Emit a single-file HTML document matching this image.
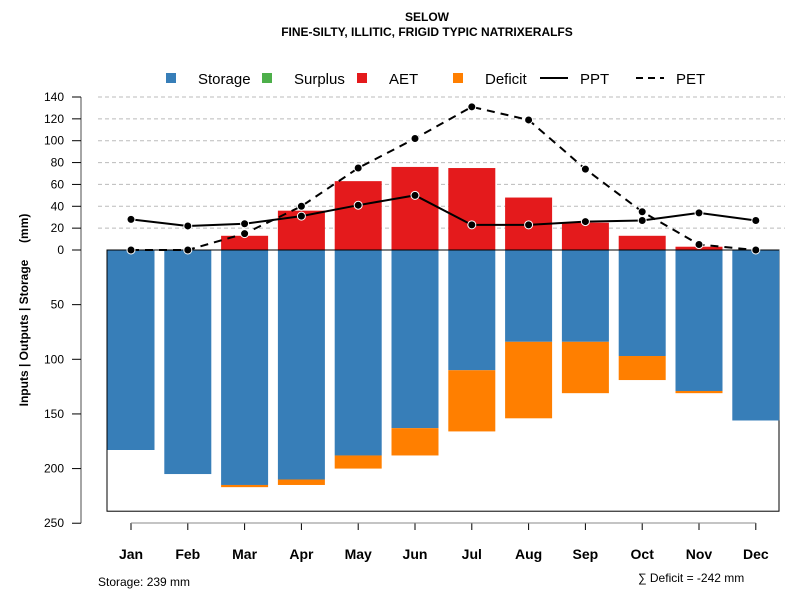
<!DOCTYPE html>
<html><head><meta charset="utf-8"><style>
body{margin:0;background:#fff;font-family:"Liberation Sans",sans-serif}
svg text{font-family:"Liberation Sans",sans-serif}
</style></head><body>
<svg id="c" width="800" height="600" xmlns="http://www.w3.org/2000/svg">
<text x="427" y="21" text-anchor="middle" font-size="12" font-weight="bold">SELOW</text>
<text x="427" y="36" text-anchor="middle" font-size="12" font-weight="bold">FINE-SILTY, ILLITIC, FRIGID TYPIC NATRIXERALFS</text>
<g>
<rect x="166" y="73" width="10" height="10" fill="#377eb8"/>
<text x="198" y="84" font-size="15">Storage</text>
<rect x="262" y="73" width="10" height="10" fill="#4daf4a"/>
<text x="294" y="84" font-size="15">Surplus</text>
<rect x="357" y="73" width="10" height="10" fill="#e41a1c"/>
<text x="389" y="84" font-size="15">AET</text>
<rect x="453" y="73" width="10" height="10" fill="#ff7f00"/>
<text x="485" y="84" font-size="15">Deficit</text>
<line x1="540" y1="78" x2="568" y2="78" stroke="#000" stroke-width="2"/>
<text x="580" y="84" font-size="15">PPT</text>
<line x1="636" y1="78" x2="664" y2="78" stroke="#000" stroke-width="2" stroke-dasharray="7,5"/>
<text x="676" y="84" font-size="15">PET</text>
</g>
<text transform="translate(28,310) rotate(-90)" text-anchor="middle" font-size="12" font-weight="bold" xml:space="preserve" style="white-space:pre">Inputs | Outputs | Storage     (mm)</text>
<text x="98" y="586" font-size="12">Storage: 239 mm</text>
<text x="638" y="582" font-size="12">∑ Deficit = -242 mm</text>
<g id="g"></g>
</svg>
<script>
const months=["Jan","Feb","Mar","Apr","May","Jun","Jul","Aug","Sep","Oct","Nov","Dec"];
const storage=[183,205,215,210,188,163,110,84,84,97,129,156];
const deficit=[0,0,2,5,12,25,56,70,47,22,2,0];
const aet=[0,0,13,36,63,76,75,48,25,13,3,0];
const ppt=[28,22,24,31,41,50,23,23,26,27,34,27];
const pet=[0,0,15,40,75,102,131,119,74,35,5,0];
const upTicks=[0,20,40,60,80,100,120,140];
const downTicks=[50,100,150,200,250];
const totalStorage=239;
const NS="http://www.w3.org/2000/svg";
const g=document.getElementById('g');
const k=1.0929, y0=250;
const y=v=>y0-v*k;
const x=i=>131+i*56.8;
const bw=47;
function el(t,a){const e=document.createElementNS(NS,t);for(const n in a)e.setAttribute(n,a[n]);g.appendChild(e);return e;}
upTicks.forEach(t=>{if(t>0){const l=el('line',{x1:98,x2:785,y1:y(t),y2:y(t),stroke:'#bbb','stroke-dasharray':'4,3'});

}});
const ax=el('line',{x1:81,x2:81,y1:y(140),y2:y(-250),stroke:'#888','stroke-width':1.5});


upTicks.forEach(t=>{el('line',{x1:72,x2:81,y1:y(t),y2:y(t),stroke:'#000'});
const tx=el('text',{x:64,y:y(t)+4,'text-anchor':'end','font-size':12});tx.textContent=t;

});
downTicks.forEach(t=>{el('line',{x1:72,x2:81,y1:y(-t),y2:y(-t),stroke:'#000'});
const tx=el('text',{x:64,y:y(-t)+4,'text-anchor':'end','font-size':12});tx.textContent=t;

});
const bx=el('rect',{x:107,y:y0,width:672,height:totalStorage*k,fill:'none',stroke:'#000'});


months.forEach((m,i)=>{
 const cx=x(i);
 const s=el('rect',{x:cx-bw/2,y:y0,width:bw,height:storage[i]*k,fill:'#377eb8'});
 
 
 if(deficit[i]>0){const d=el('rect',{x:cx-bw/2,y:y(-storage[i]),width:bw,height:deficit[i]*k,fill:'#ff7f00'});
 
 }
 if(aet[i]>0){const a=el('rect',{x:cx-bw/2,y:y(aet[i]),width:bw,height:aet[i]*k,fill:'#e41a1c'});
 
 }
 el('line',{x1:cx,x2:cx,y1:523,y2:530,stroke:'#000'});
 const t=el('text',{x:cx,y:559,'text-anchor':'middle','font-size':14,'font-weight':'bold'});t.textContent=m;
 
 
});
const zl=el('line',{x1:107,x2:779,y1:y0,y2:y0,stroke:'#000'});


const xl=el('line',{x1:x(0),x2:x(11),y1:523,y2:523,stroke:'#888'});


function series(arr,dash,name){
 const p=el('polyline',{points:arr.map((v,i)=>x(i)+','+y(v)).join(' '),fill:'none',stroke:'#000','stroke-width':2,'stroke-dasharray':dash});
 
 
 arr.forEach((v,i)=>{const c=el('circle',{cx:x(i),cy:y(v),r:4,fill:'#000',stroke:'#fff','stroke-width':1});
 
 });
}
series(pet,'8,6','pet');
series(ppt,'none','ppt');
</script>
</body></html>
